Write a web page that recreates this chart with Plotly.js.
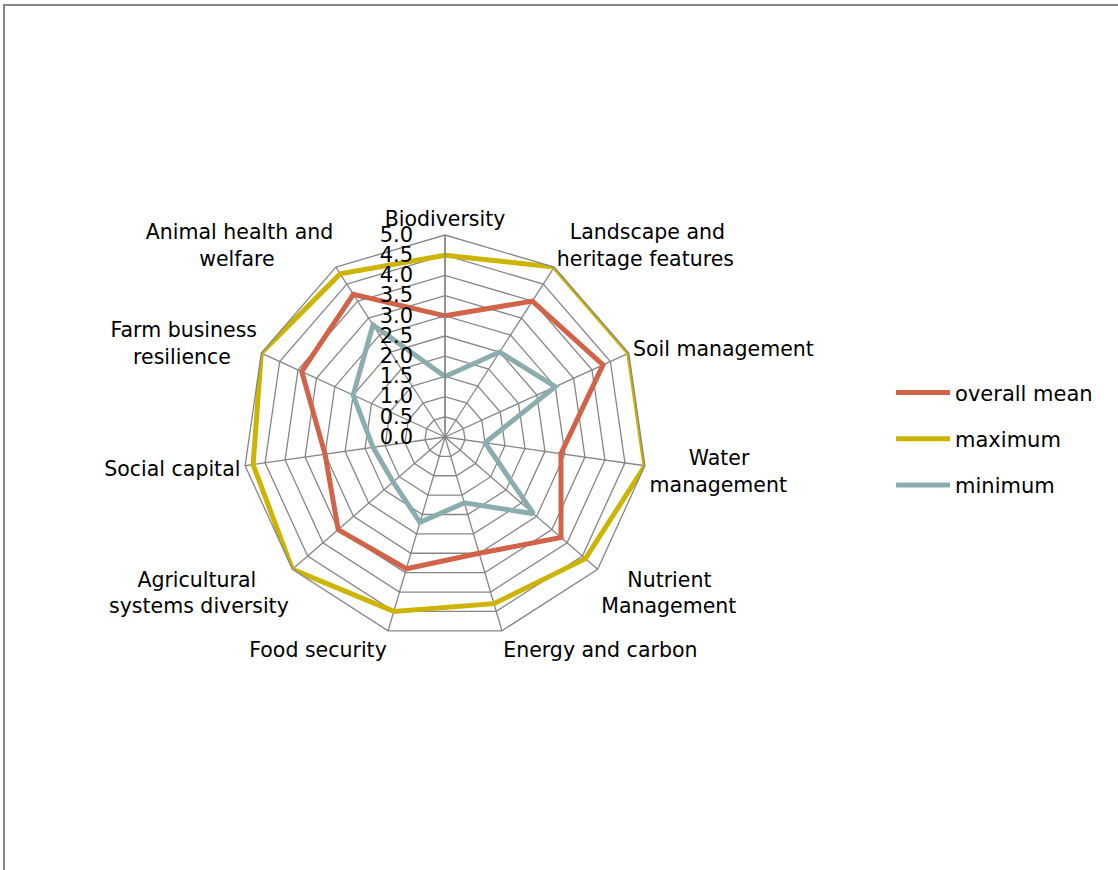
<!DOCTYPE html>
<html>
<head>
<meta charset="utf-8">
<script src="https://cdn.plot.ly/plotly-3.0.1.min.js"></script>
<style>
  html, body { margin: 0; padding: 0; background: #ffffff; overflow: hidden; }
  #frame { position: absolute; left: 3px; top: 4px; width: 1200px; height: 950px;
           border-top: 2px solid #868686; border-left: 2px solid #868686; pointer-events: none; z-index: 5; }
  #chart { position: absolute; left: 0; top: 0; width: 1118px; height: 870px; }
</style>
</head>
<body>
<div id="chart"></div>
<div id="frame"></div>
<script>
const categories = [
  "Biodiversity",
  "Landscape and heritage features",
  "Soil management",
  "Water management",
  "Nutrient Management",
  "Energy and carbon",
  "Food security",
  "Agricultural systems diversity",
  "Social capital",
  "Farm business resilience",
  "Animal health and welfare"
];
// Displayed category labels (two-line labels centred like the original)
const S = "\u00A0";
const categoryLabels = [
  "Biodiversity",
  S.repeat(2) + "Landscape and<br>heritage features",
  "Soil management",
  S.repeat(6) + "Water<br>management",
  S.repeat(4) + "Nutrient<br>Management",
  "Energy and carbon",
  "Food security",
  "Agricultural" + S.repeat(5) + "<br>systems diversity",
  "Social capital",
  "Farm business<br>resilience" + S.repeat(4),
  "Animal health and<br>welfare" + S.repeat(9)
];
const overallMean = [3.0, 4.0, 4.3, 2.9, 3.8, 3.0, 3.4, 3.5, 3.0, 3.9, 4.2];
const maximum     = [4.5, 5.0, 5.0, 5.0, 4.6, 4.3, 4.5, 5.0, 4.8, 5.0, 4.8];
const minimum     = [1.5, 2.5, 3.0, 1.0, 2.9, 1.7, 2.2, 1.7, 1.8, 2.5, 3.3];
const radialTicks = [0, 0.5, 1, 1.5, 2, 2.5, 3, 3.5, 4, 4.5, 5];

const seriesNames = ["overall mean", "maximum", "minimum"];
const seriesData = [overallMean, maximum, minimum];
const seriesColors = ["#D16349", "#CCB400", "#8CADAE"];

const closeLoop = arr => arr.concat([arr[0]]);

const traces = seriesData.map((vals, i) => ({
  type: "scatterpolar",
  mode: "lines",
  name: seriesNames[i],
  legendgroup: "g" + i,
  r: closeLoop(vals),
  theta: closeLoop(categories),
  line: { color: seriesColors[i], width: 5 },
  hoverinfo: "skip"
}));

const font = "DejaVu Sans, sans-serif";

const layout = {
  width: 1118,
  height: 870,
  margin: { l: 0, r: 0, t: 0, b: 0 },
  paper_bgcolor: "#ffffff",
  plot_bgcolor: "#ffffff",
  font: { family: font, size: 20, color: "#000000" },
  showlegend: true,
  legend: {
    x: 0.797, y: 0.572, xanchor: "left", yanchor: "top",
    font: { family: font, size: 21, color: "#000000" },
    tracegroupgap: 16,
    itemwidth: 54,
    bgcolor: "rgba(0,0,0,0)"
  },
  polar: {
    domain: { x: [0.2174, 0.5787], y: [0.2655, 0.7299] },
    gridshape: "linear",
    bgcolor: "#ffffff",
    radialaxis: {
      range: [0, 5],
      tickvals: radialTicks,
      ticktext: radialTicks.map(v => v.toFixed(1)),
      angle: 90,
      tickangle: 90,
      side: "counterclockwise",
      showline: true,
      linecolor: "#868686",
      linewidth: 1.3,
      gridcolor: "#868686",
      gridwidth: 1.3,
      ticks: "outside",
      ticklen: 24,
      tickcolor: "rgba(0,0,0,0)",
      tickfont: { family: font, size: 21, color: "#000000" }
    },
    angularaxis: {
      direction: "clockwise",
      rotation: 90,
      tickvals: categories,
      ticktext: categoryLabels,
      linecolor: "#868686",
      linewidth: 1.3,
      gridcolor: "#868686",
      gridwidth: 1.3,
      ticks: "",
      tickfont: { family: font, size: 20.5, color: "#000000" }
    }
  }
};

Plotly.newPlot("chart", traces, layout, { displayModeBar: false, staticPlot: true });
</script>
</body>
</html>
